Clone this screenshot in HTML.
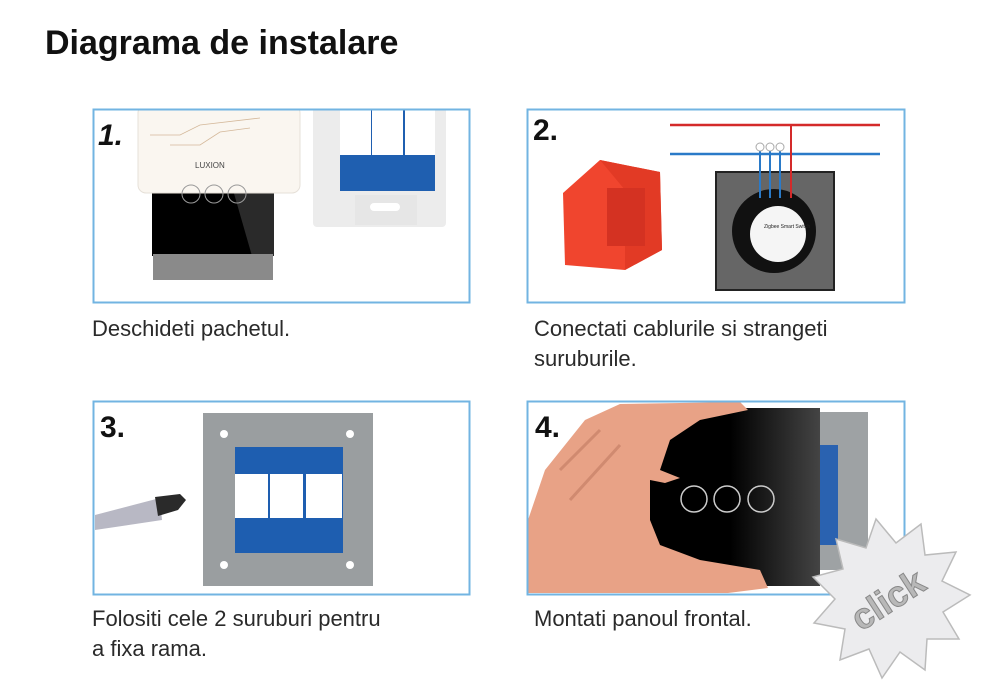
<!DOCTYPE html>
<html><head><meta charset="utf-8"><style>
body{margin:0;background:#fff;width:1000px;height:698px;overflow:hidden;font-family:"Liberation Sans",sans-serif}
.t{position:absolute;font-size:22px;color:#2a2a2a;line-height:30px}
</style></head><body>
<div style="position:absolute;left:45px;top:24px;font-size:34px;font-weight:bold;color:#111">Diagrama de instalare</div>
<div class="t" style="left:92px;top:314px">Deschideti pachetul.</div>
<div class="t" style="left:534px;top:314px">Conectati cablurile si strangeti<br>suruburile.</div>
<div class="t" style="left:92px;top:604px">Folositi cele 2 suruburi pentru<br>a fixa rama.</div>
<div class="t" style="left:534px;top:604px">Montati panoul frontal.</div>
<svg width="1000" height="698" style="position:absolute;left:0;top:0" font-family="Liberation Sans">
<defs><clipPath id="c1"><rect x="94" y="110" width="375" height="192"/></clipPath>
<clipPath id="c4"><rect x="528" y="402" width="376" height="191"/></clipPath>
<linearGradient id="gl" x1="0" x2="1"><stop offset="0.5" stop-color="#000"/><stop offset="1" stop-color="#444"/></linearGradient></defs>
<!-- panel 1 -->
<g clip-path="url(#c1)">
<rect x="152" y="190" width="122" height="66" fill="#000"/>
<polygon points="233,190 274,190 274,256 252,256" fill="#2a2a2a"/>
<rect x="153" y="254" width="120" height="26" fill="#8a8a8a"/>
<rect x="138" y="105" width="162" height="88" rx="8" fill="#faf6f0" stroke="#e6e0d8"/>
<circle cx="191" cy="194" r="9" fill="none" stroke="#999"/><circle cx="214" cy="194" r="9" fill="none" stroke="#999"/><circle cx="237" cy="194" r="9" fill="none" stroke="#999"/>
<text x="195" y="168" font-size="8" fill="#444">LUXION</text>
<path d="M150 135 L180 135 L200 125 L260 118 M170 145 L200 145 L220 132 L250 128" stroke="#d4b89a" fill="none" stroke-width="0.8"/>
<rect x="313" y="105" width="133" height="122" rx="4" fill="#ececec"/>
<rect x="340" y="107" width="95" height="84" fill="#1f5fb0"/>
<rect x="340" y="110" width="31" height="45" fill="#fff"/><rect x="372" y="110" width="31" height="45" fill="#fff"/><rect x="405" y="110" width="30" height="45" fill="#fff"/>
<rect x="355" y="195" width="62" height="30" fill="#e6e6e6"/><rect x="370" y="203" width="30" height="8" rx="4" fill="#fff"/>
</g>
<text x="98" y="145" font-size="30" font-weight="bold" font-style="italic" fill="#111">1.</text>
<rect x="93.5" y="109.5" width="376" height="193" fill="none" stroke="#72b4e2" stroke-width="2"/>
<!-- panel 2 -->
<rect x="527.5" y="109.5" width="377" height="193" fill="none" stroke="#72b4e2" stroke-width="2"/>
<text x="533" y="140" font-size="30" font-weight="bold" fill="#111">2.</text>
<polygon points="563,193 600,160 660,172 662,250 625,270 565,265" fill="#f0452e"/>
<polygon points="600,160 660,172 662,250 625,270 625,190" fill="#e23a25"/>
<rect x="607" y="188" width="38" height="58" fill="#d43222"/>
<line x1="670" y1="125" x2="880" y2="125" stroke="#d42a2a" stroke-width="2.5"/>
<line x1="670" y1="154" x2="880" y2="154" stroke="#2a7ac8" stroke-width="2.5"/>
<rect x="716" y="172" width="118" height="118" fill="#666" stroke="#222" stroke-width="2"/>
<circle cx="774" cy="231" r="42" fill="#111"/>
<circle cx="778" cy="234" r="28" fill="#f5f5f5"/>
<text x="764" y="228" font-size="5" fill="#222">Zigbee Smart Switch</text>
<line x1="760" y1="150" x2="760" y2="198" stroke="#2a7ac8" stroke-width="2"/>
<line x1="770" y1="150" x2="770" y2="198" stroke="#2a7ac8" stroke-width="2"/>
<line x1="780" y1="150" x2="780" y2="198" stroke="#2a7ac8" stroke-width="2"/>
<line x1="791" y1="125" x2="791" y2="198" stroke="#d42a2a" stroke-width="2"/>
<circle cx="760" cy="147" r="4" fill="#fff" stroke="#aaa"/><circle cx="770" cy="147" r="4" fill="#fff" stroke="#aaa"/><circle cx="780" cy="147" r="4" fill="#fff" stroke="#aaa"/>
<!-- panel 3 -->
<rect x="93.5" y="401.5" width="376" height="193" fill="none" stroke="#72b4e2" stroke-width="2"/>
<text x="100" y="437" font-size="30" font-weight="bold" fill="#111">3.</text>
<polygon points="95,515 160,498 162,520 95,530" fill="#b8b8c4"/>
<polygon points="155,497 180,494 186,500 178,510 158,516" fill="#2a2a2a"/>
<rect x="203" y="413" width="170" height="173" fill="#9a9ea0"/>
<rect x="235" y="447" width="108" height="106" fill="#1e5eb0"/>
<rect x="235" y="474" width="33" height="44" fill="#fff"/><rect x="270" y="474" width="33" height="44" fill="#fff"/><rect x="306" y="474" width="36" height="44" fill="#fff"/>
<circle cx="224" cy="434" r="4" fill="#fff"/><circle cx="350" cy="434" r="4" fill="#fff"/><circle cx="224" cy="565" r="4" fill="#fff"/><circle cx="350" cy="565" r="4" fill="#fff"/>
<!-- panel 4 -->
<g clip-path="url(#c4)">
<rect x="820" y="412" width="48" height="158" fill="#9ea2a4"/>
<rect x="820" y="445" width="18" height="100" fill="#2a62b0"/>
<rect x="640" y="408" width="180" height="178" fill="url(#gl)"/>
<circle cx="694" cy="499" r="13" fill="none" stroke="#ccc" stroke-width="1.5"/><circle cx="727" cy="499" r="13" fill="none" stroke="#ccc" stroke-width="1.5"/><circle cx="761" cy="499" r="13" fill="none" stroke="#ccc" stroke-width="1.5"/>
<path d="M528 520 L545 470 L585 420 L620 404 L740 402 L748 410 L700 420 L670 440 L660 470 L680 478 L665 483 L650 480 L650 520 L660 545 L700 560 L760 570 L768 588 L720 594 L528 594 Z" fill="#e8a286"/>
<path d="M560 470 L600 430 M570 500 L620 445" stroke="#d08a70" stroke-width="3" fill="none"/>
</g>
<rect x="527.5" y="401.5" width="377" height="193" fill="none" stroke="#72b4e2" stroke-width="2"/>
<text x="535" y="437" font-size="30" font-weight="bold" fill="#111">4.</text>
<polygon points="876,519 896,543 921,524 925,555 956,552 942,581 970,595 943,612 959,639 927,639 925,670 900,652 882,678 869,649 840,660 845,629 814,623 835,599 813,577 843,569 836,539 866,548" fill="#ececee" stroke="#bbb" stroke-width="1.5"/>
<text x="888" y="612" font-size="36" font-weight="bold" fill="#b8b8b8" stroke="#888" stroke-width="1" text-anchor="middle" transform="rotate(-33 888 600)">click</text>
</svg>
</body></html>
